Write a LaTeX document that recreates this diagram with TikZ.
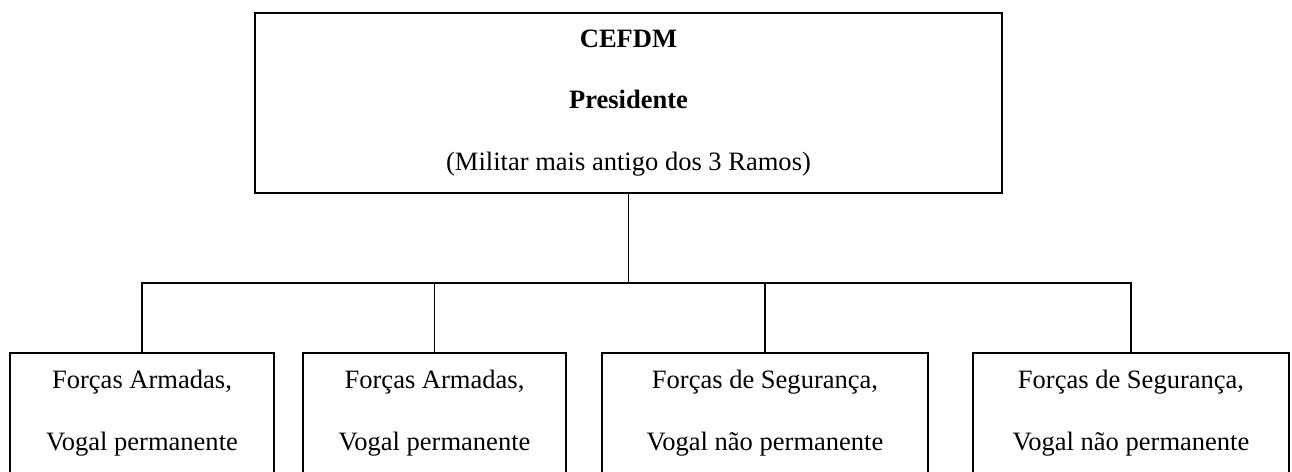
\documentclass[tikz,border=0pt]{standalone}
\usepackage{fontspec}
\setmainfont{Liberation Serif}

\begin{document}
\begin{tikzpicture}[x=0.02cm,y=-0.02cm,
        txt/.style={align=center,font=\fontsize{15.1}{35.1}\selectfont},
        chefe/.style={txt,draw,line width=1.2pt,minimum width=14.94cm,minimum height=3.6cm},
        vogal/.style={txt,draw,line width=0.7pt,minimum height=2.4cm}]
        \useasboundingbox (0,0) rectangle (1292,471);
        \node[chefe] (cefdm) at (628.5,103) {\textbf{CEFDM}\\\textbf{Presidente}\\(Militar mais antigo dos 3 Ramos)};
        \node[vogal,minimum width=5.28cm] (fa1) at (142,413) {Forças Armadas,\\Vogal permanente};
        \node[vogal,minimum width=5.26cm] (fa2) at (434.5,413) {Forças Armadas,\\Vogal permanente};
        \node[vogal,minimum width=6.52cm] (fs1) at (765,413) {Forças de Segurança,\\Vogal não permanente};
        \node[vogal,minimum width=6.32cm] (fs2) at (1131,413) {Forças de Segurança,\\Vogal não permanente};
        \coordinate (hub) at (628.5,283);
        \draw[line width=0.7pt] (cefdm.south) -- (hub);
        \foreach \n in {fa1,fa2,fs1,fs2}
            \draw[line width=0.7pt] (\n.north) |- (hub);
    \end{tikzpicture}
\end{document}
